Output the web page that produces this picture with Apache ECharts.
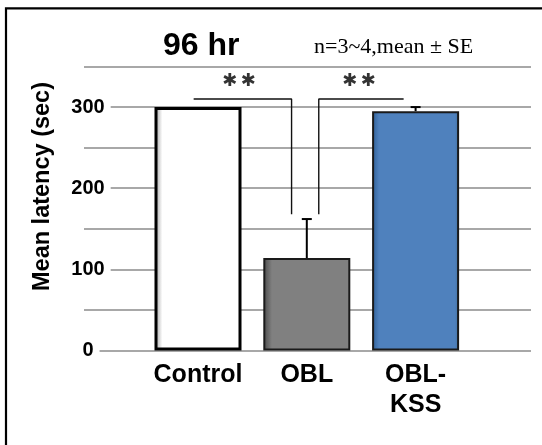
<!DOCTYPE html>
<html>
<head>
<meta charset="utf-8">
<script src="https://cdn.jsdelivr.net/npm/echarts@6/dist/echarts.min.js"></script>
<style>
html,body{margin:0;padding:0;background:#fff;}
#chart{width:542px;height:445px;}
</style>
</head>
<body>
<div id="chart"></div>
<script>
// ---- data ----
const categories = ['Control', 'OBL', 'OBL-\nKSS'];
const meanLatency = [300, 114, 295];
const seLatency = [0, 48, 5];
const yLabelTicks = [0, 100, 200, 300];
// significance brackets (x in category units, y in seconds)
const bracketLeft = [[-0.04, 310], [0.86, 310], [0.86, 168]];
const bracketRight = [[1.89, 310], [1.11, 310], [1.11, 168]];
const starMarks = [[0.377, 332], [1.48, 332]];
const titleText = '96 hr';
const noteText = 'n=3~4,mean \u00B1 SE';
const yName = 'Mean latency (sec)';

const barStyles = [
  { color: { type: 'linear', x: 0, y: 0, x2: 1, y2: 0, colorStops: [
      { offset: 0, color: '#9a9a9a' }, { offset: 0.09, color: '#ffffff' }, { offset: 1, color: '#ffffff' }] },
    borderColor: '#000', borderWidth: 3 },
  { color: { type: 'linear', x: 0, y: 0, x2: 1, y2: 0, colorStops: [
      { offset: 0, color: '#4a4a4a' }, { offset: 0.1, color: '#808080' }, { offset: 1, color: '#808080' }] },
    borderColor: '#1a1a1a', borderWidth: 2 },
  { color: { type: 'linear', x: 0, y: 0, x2: 1, y2: 0, colorStops: [
      { offset: 0, color: '#2f5f96' }, { offset: 0.08, color: '#4f81bd' }, { offset: 0.95, color: '#4f81bd' }, { offset: 1, color: '#41709f' }] },
    borderColor: '#1a1a1a', borderWidth: 2 }
];

const chart = echarts.init(document.getElementById('chart'), null, { renderer: 'canvas' });

const grids = [
  { left: 84, right: 11, top: 66.5, bottom: 94.5 },
  { left: 143.6, right: 72, top: 66.5, bottom: 94.5 }
];

const option = {
  backgroundColor: '#ffffff',
  animation: false,
  title: [
    { text: titleText, left: 163, top: 30, padding: 0,
      textStyle: { fontFamily: 'Liberation Sans, Arial', fontWeight: 'bold', fontSize: 32, color: '#000' } },
    { text: noteText, left: 314, top: 36, padding: 0,
      textStyle: { fontFamily: 'Liberation Serif, Times New Roman', fontWeight: 'normal', fontSize: 22, color: '#000' } }
  ],
  graphic: [
    { type: 'polyline', shape: { points: [[6, 445], [6, 8.3], [542, 8.3]] },
      style: { stroke: '#000', lineWidth: 2.2, fill: null }, z: 100 }
  ],
  grid: grids,
  xAxis: [
    { gridIndex: 0, type: 'value', min: 0, max: 1, show: false },
    { gridIndex: 1, type: 'category', data: categories,
      axisLine: { show: false }, axisTick: { show: false },
      axisLabel: { margin: 10, color: '#000', fontFamily: 'Liberation Sans, Arial', fontWeight: 'bold',
        fontSize: 25, lineHeight: 30, interval: 0 } },
    { gridIndex: 1, type: 'value', min: -0.5, max: 2.5, show: false }
  ],
  yAxis: [
    { gridIndex: 0, type: 'value', position: 'left', min: 0, max: 350, interval: 50,
      axisLine: { show: false }, axisTick: { show: false }, axisLabel: { show: false },
      splitLine: { show: true, lineStyle: { color: '#a8a8a8', width: 2 } } },
    { gridIndex: 0, type: 'value', position: 'left', offset: 0, min: 0, max: 350, interval: 100, z: 5,
      axisLine: { show: false }, axisTick: { show: false }, splitLine: { show: false },
      axisLabel: { showMaxLabel: false, align: 'center', margin: -4, color: '#000',
        fontFamily: 'Liberation Sans, Arial', fontWeight: 'bold', fontSize: 20,
        backgroundColor: '#fff', padding: [2, 6, 2, 6],
        formatter: v => (yLabelTicks.indexOf(v) >= 0 ? String(v) : '') },
      name: yName, nameLocation: 'middle', nameGap: 24,
      nameTextStyle: { color: '#000', fontFamily: 'Liberation Sans, Arial', fontWeight: 'bold', fontSize: 23.5,
        padding: [0, 0, 0, 44] } },
    { gridIndex: 1, type: 'value', min: 0, max: 350, show: false }
  ],
  series: [
    { type: 'bar', xAxisIndex: 1, yAxisIndex: 2, barWidth: 87, z: 2,
      data: meanLatency.map((v, i) => ({ value: v, itemStyle: barStyles[i] })) },
    { type: 'custom', xAxisIndex: 1, yAxisIndex: 2, z: 3,
      data: meanLatency.map((v, i) => [i, v, seLatency[i]]),
      renderItem: function (params, api) {
        const i = api.value(0), m = api.value(1), se = api.value(2);
        if (!se) return null;
        const p0 = api.coord([i, m]);
        const p1 = api.coord([i, m + se]);
        const half = 5;
        return { type: 'group', children: [
          { type: 'line', shape: { x1: p0[0], y1: p0[1], x2: p1[0], y2: p1[1] },
            style: { stroke: '#000', lineWidth: 2 } },
          { type: 'line', shape: { x1: p1[0] - half, y1: p1[1], x2: p1[0] + half, y2: p1[1] },
            style: { stroke: '#000', lineWidth: 2 } }
        ] };
      } },
    { type: 'line', xAxisIndex: 2, yAxisIndex: 2, data: bracketLeft, symbol: 'none', z: 4,
      lineStyle: { color: '#111', width: 1.4 } },
    { type: 'line', xAxisIndex: 2, yAxisIndex: 2, data: bracketRight, symbol: 'none', z: 4,
      lineStyle: { color: '#111', width: 1.4 } },
    { type: 'scatter', xAxisIndex: 2, yAxisIndex: 2, data: starMarks, symbolSize: 0, z: 4,
      label: { show: true, position: 'inside', formatter: '\u2731\u2009\u2731', color: '#000',
        fontFamily: 'DejaVu Sans', fontWeight: 'normal', fontSize: 18 } }
  ]
};
chart.setOption(option);
</script>
</body>
</html>
